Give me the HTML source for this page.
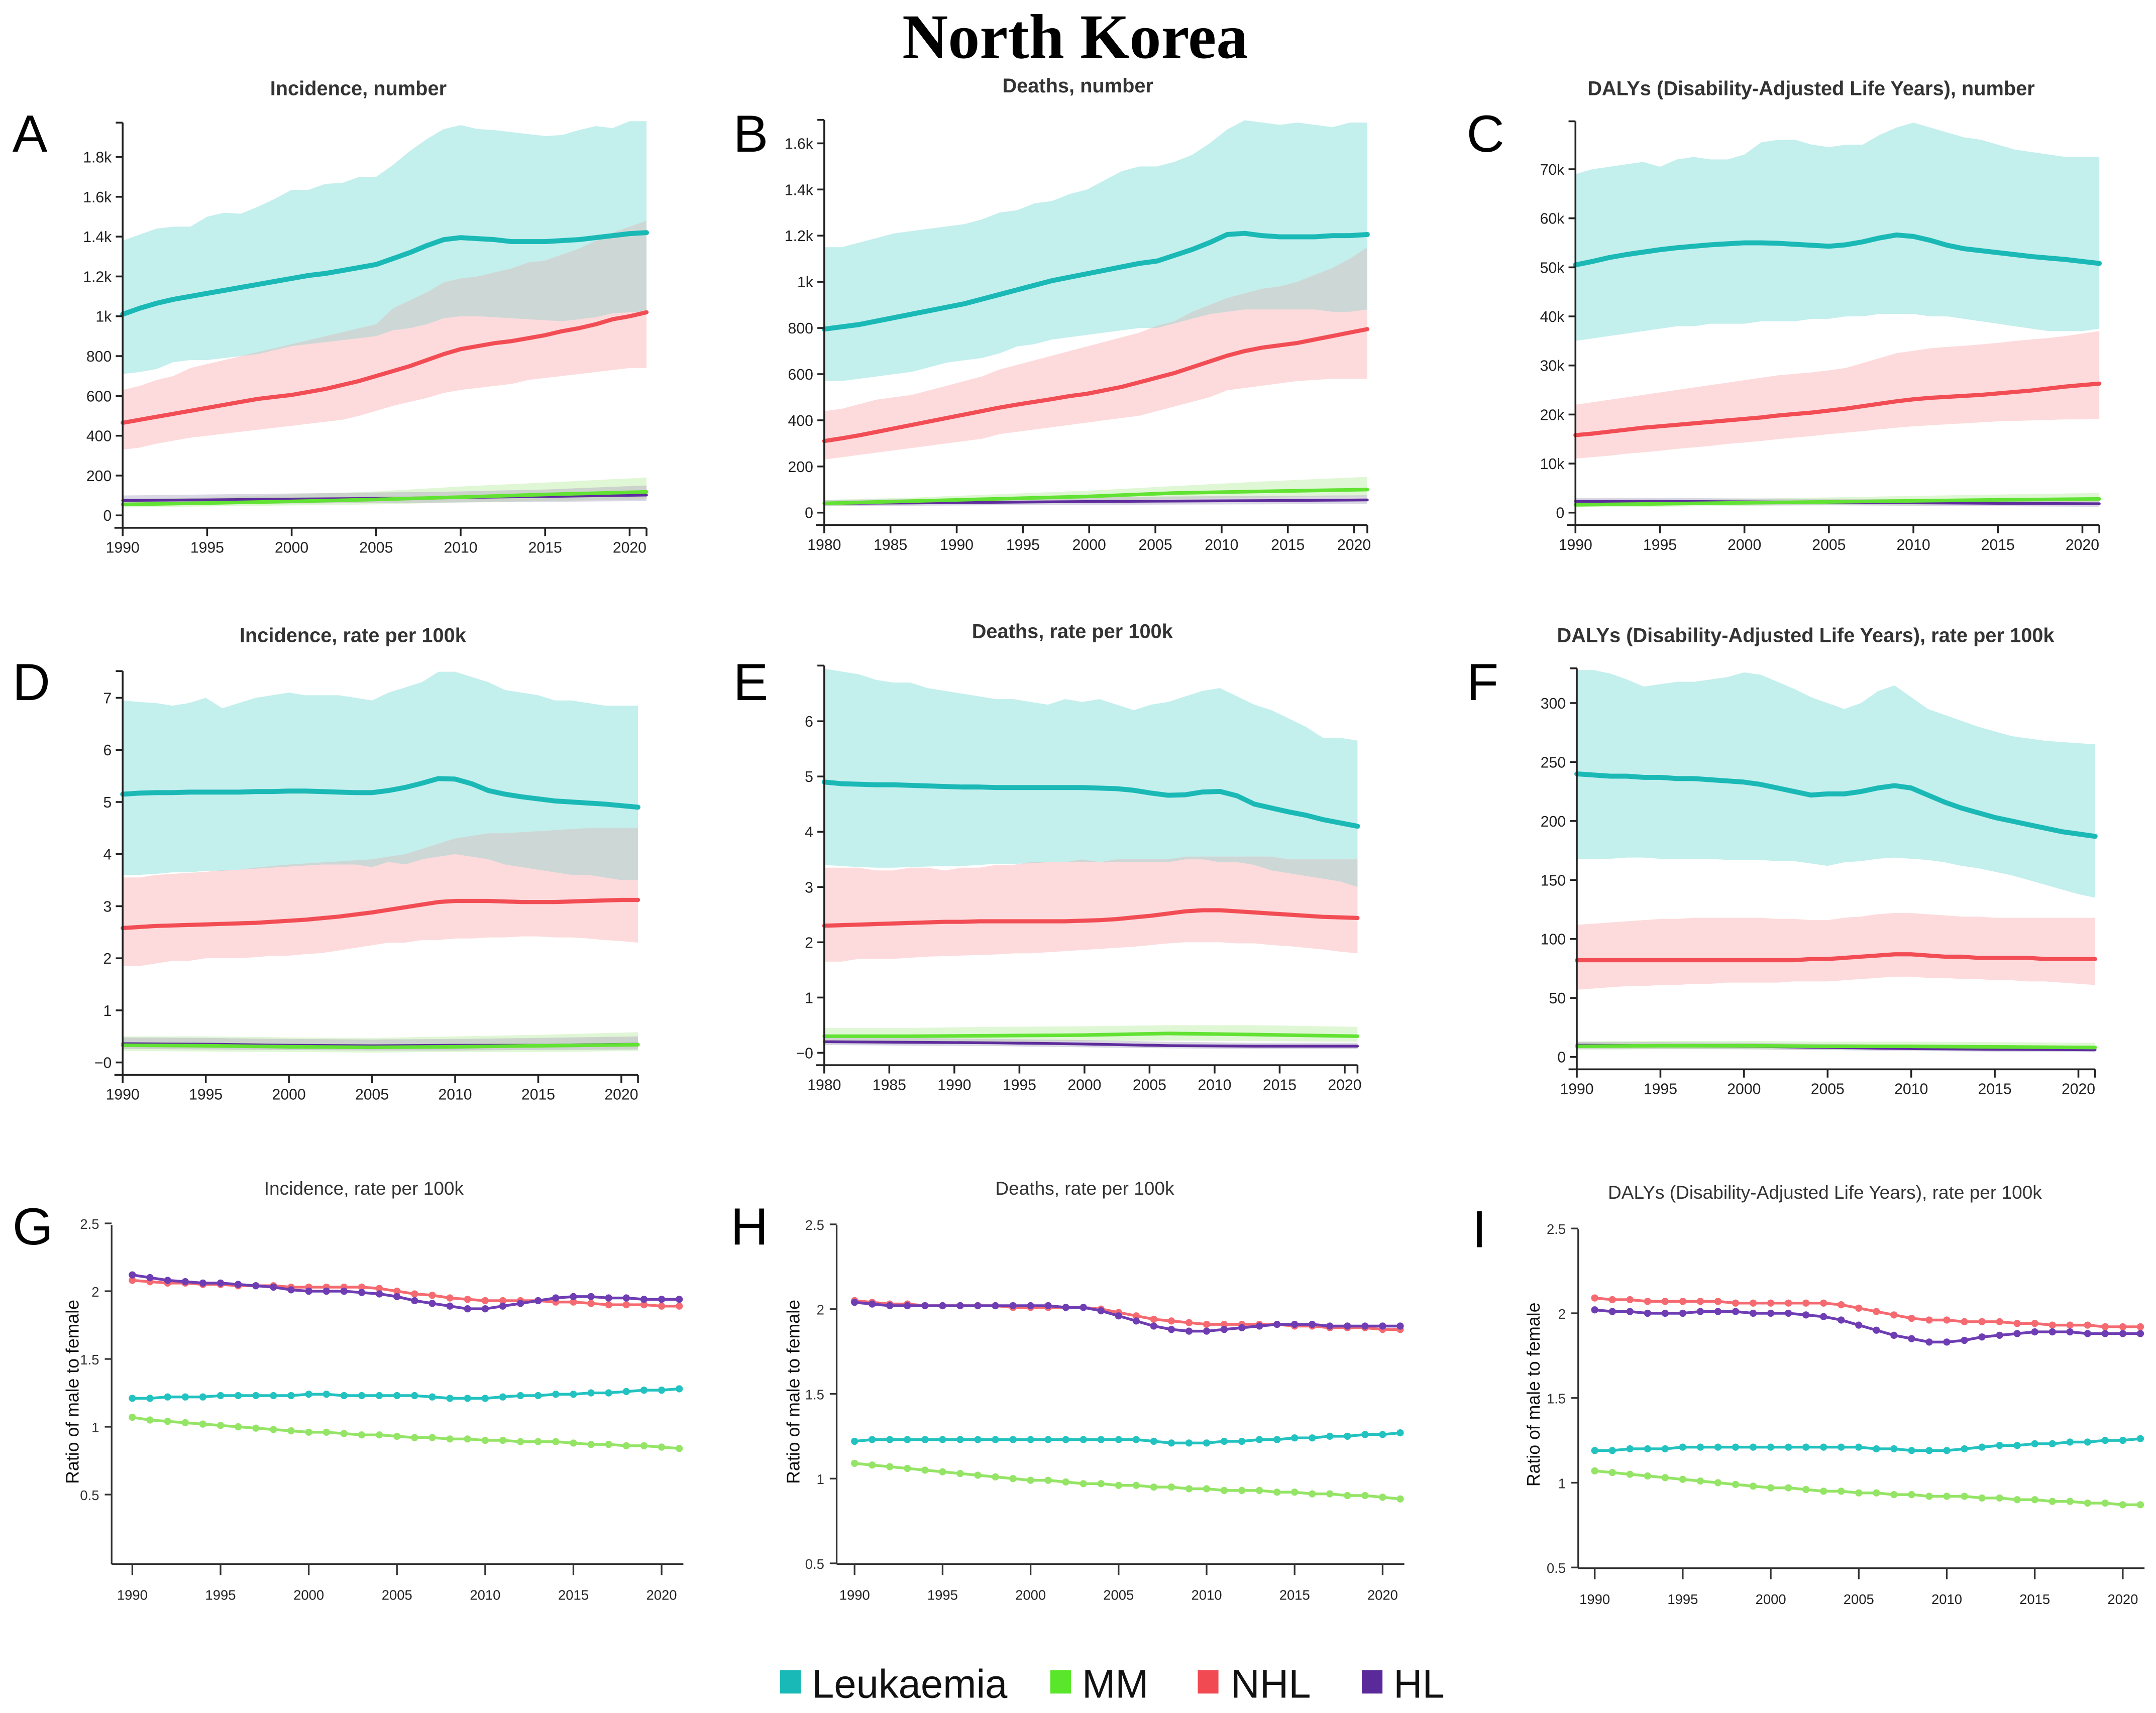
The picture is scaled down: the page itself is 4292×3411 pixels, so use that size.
<!DOCTYPE html>
<html><head><meta charset="utf-8"><style>
html,body{margin:0;padding:0;background:#fff;}
svg{display:block;}
text{font-family:"Liberation Sans",sans-serif;}
</style></head>
<body>
<svg id="fig" xmlns="http://www.w3.org/2000/svg" width="4292" height="3411" viewBox="0 0 1564.2 1243.1">
<rect width="1564.2" height="1243.1" fill="#fff"/>
<defs id="defs"></defs>
<text x="780" y="42" text-anchor="middle" font-weight="bold" font-size="46" fill="#000" style="font-family:'Liberation Serif',serif">North Korea</text>
<g id="panels"></g>
<g>
 <rect x="566" y="1212" width="15" height="17" fill="#18b9b6"/>
 <text x="589" y="1232" font-size="29" fill="#111">Leukaemia</text>
 <rect x="762" y="1212" width="15" height="17" fill="#5ae62a"/>
 <text x="785" y="1232" font-size="29" fill="#111">MM</text>
 <rect x="869" y="1212" width="15" height="17" fill="#f24a52"/>
 <text x="893" y="1232" font-size="29" fill="#111">NHL</text>
 <rect x="988" y="1212" width="15" height="17" fill="#5b2a9a"/>
 <text x="1011" y="1232" font-size="29" fill="#111">HL</text>
</g>
</svg>
<script>
// ---------- categories ----------
const YEARS = [1990,1991,1992,1993,1994,1995,1996,1997,1998,1999,2000,2001,2002,2003,2004,2005,2006,2007,2008,2009,2010,2011,2012,2013,2014,2015,2016,2017,2018,2019,2020,2021];
const SPARSE = [1990,1995,2000,2005,2010,2015,2021];

// ---------- A: incidence number ----------
const A_leuk = [1010,1040,1065,1085,1100,1115,1130,1145,1160,1175,1190,1205,1215,1230,1245,1260,1290,1320,1355,1385,1395,1390,1385,1375,1375,1375,1380,1385,1395,1405,1415,1420];
const A_leukHi = [1380,1410,1440,1450,1450,1500,1520,1515,1550,1590,1635,1635,1665,1670,1700,1700,1760,1830,1890,1940,1960,1940,1935,1925,1915,1905,1910,1935,1955,1945,1980,1980];
const A_leukLo = [710,720,735,770,780,780,790,800,810,830,850,860,870,880,890,900,930,940,960,990,1000,1000,995,990,985,980,975,985,995,1015,1020,1025];
const A_nhl = [465,480,495,510,525,540,555,570,585,595,605,620,635,655,675,700,725,750,780,810,835,850,865,875,890,905,925,940,960,985,1000,1020];
const A_nhlHi = [630,650,680,700,740,760,780,800,820,840,860,880,900,920,940,960,1040,1080,1120,1170,1190,1200,1220,1240,1270,1280,1310,1340,1380,1420,1450,1480];
const A_nhlLo = [330,340,360,375,390,400,410,420,430,440,450,460,470,480,500,525,550,570,590,615,630,640,650,660,680,690,700,710,720,730,740,740];
const A_mm = [55,62,70,80,92,105,118], A_mmHi = [80,90,105,120,145,165,190], A_mmLo = [40,45,50,55,65,72,80];
const A_hl = [75,78,82,85,90,95,102], A_hlHi = [100,105,110,115,120,130,150], A_hlLo = [55,57,60,62,65,68,72];
const A_ticks = [0,200,400,600,800,1000,1200,1400,1600,1800];
const A_tickLabels = ['0','200','400','600','800','1k','1.2k','1.4k','1.6k','1.8k'];

// ---------- B: deaths number ----------
const B_leuk = [795,805,815,830,845,860,875,890,905,925,945,965,985,1005,1020,1035,1050,1065,1080,1090,1115,1140,1170,1205,1210,1200,1195,1195,1195,1200,1200,1205];
const B_leukHi = [1150,1150,1170,1190,1210,1220,1230,1240,1250,1270,1300,1310,1340,1350,1380,1400,1440,1480,1500,1500,1520,1550,1600,1660,1700,1690,1680,1690,1680,1670,1690,1690];
const B_leukLo = [570,570,580,590,600,610,630,650,660,670,690,720,730,750,760,770,780,790,800,800,820,840,860,870,880,880,880,880,880,870,870,880];
const B_nhl = [310,322,335,350,365,380,395,410,425,440,455,468,480,492,505,515,530,545,565,585,605,630,655,680,700,715,725,735,750,765,780,795];
const B_nhlHi = [440,450,470,490,500,510,530,550,570,590,620,640,660,680,700,720,740,760,780,810,830,870,900,930,950,970,980,1000,1030,1060,1100,1150];
const B_nhlLo = [230,240,250,260,270,280,290,300,310,320,340,350,360,370,380,390,400,410,420,440,460,480,500,530,540,550,560,570,575,580,580,580];
const B_mm = [40,50,60,70,85,92,100], B_mmHi = [55,65,80,95,115,135,155], B_mmLo = [28,35,42,50,60,65,70];
const B_hl = [40,42,45,48,50,52,55], B_hlHi = [55,58,62,66,70,72,75], B_hlLo = [28,30,32,34,35,36,38];
const B_ticks = [0,200,400,600,800,1000,1200,1400,1600];
const B_tickLabels = ['0','200','400','600','800','1k','1.2k','1.4k','1.6k'];

// ---------- C: DALYs number (thousands) ----------
const C_leuk = [50.5,51.2,52,52.6,53.1,53.6,54,54.3,54.6,54.8,55,55,54.9,54.7,54.5,54.3,54.6,55.2,56,56.6,56.3,55.5,54.5,53.8,53.4,53,52.6,52.2,51.9,51.6,51.2,50.8];
const C_leukHi = [69,70,70.5,71,71.5,70.5,72,72.5,72,72,73,75.5,76,76,75,74.5,75,75,77,78.5,79.5,78.5,77.5,76.5,76,75,74,73.5,73,72.5,72.5,72.5];
const C_leukLo = [35,35.5,36,36.5,37,37.5,38,38,38.5,38.5,38.5,39,39,39,39.5,39.5,40,40,40.5,40.5,40.5,40,40,39.5,39,38.5,38,37.5,37,37,37,37.5];
const C_nhl = [15.8,16.1,16.5,16.9,17.3,17.6,17.9,18.2,18.5,18.8,19.1,19.4,19.8,20.1,20.4,20.8,21.2,21.7,22.2,22.7,23.1,23.4,23.6,23.8,24,24.3,24.6,24.9,25.3,25.7,26,26.3];
const C_nhlHi = [22,22.5,23,23.5,24,24.5,25,25.5,26,26.5,27,27.5,28,28.3,28.6,29,29.5,30.5,31.5,32.5,33,33.5,33.8,34,34.3,34.6,35,35.3,35.6,36,36.5,37];
const C_nhlLo = [11,11.3,11.6,12,12.3,12.6,13,13.3,13.6,14,14.3,14.6,15,15.3,15.6,16,16.3,16.6,17,17.3,17.6,17.8,18,18.2,18.4,18.6,18.7,18.8,18.9,19,19,19.1];
const C_mm = [1.6,1.8,2.0,2.2,2.4,2.6,2.8], C_mmHi = [2.2,2.5,2.8,3.1,3.4,3.7,4], C_mmLo = [1.1,1.2,1.4,1.5,1.6,1.8,1.9];
const C_hl = [2.3,2.3,2.2,2.1,2.0,1.9,1.8], C_hlHi = [3,3,2.9,2.8,2.7,2.6,2.5], C_hlLo = [1.6,1.6,1.5,1.5,1.4,1.3,1.2];
const C_ticks = [0,10,20,30,40,50,60,70];
const C_tickLabels = ['0','10k','20k','30k','40k','50k','60k','70k'];

// ---------- D: incidence rate ----------
const D_leuk = [5.15,5.17,5.18,5.18,5.19,5.19,5.19,5.19,5.2,5.2,5.21,5.21,5.2,5.19,5.18,5.18,5.22,5.28,5.36,5.45,5.44,5.35,5.22,5.15,5.1,5.06,5.02,5,4.98,4.96,4.93,4.9];
const D_leukHi = [6.95,6.92,6.9,6.85,6.9,7,6.8,6.9,7,7.05,7.1,7.05,7.05,7.05,7,6.95,7.1,7.2,7.3,7.5,7.5,7.4,7.3,7.15,7.1,7.05,6.95,6.95,6.9,6.85,6.85,6.85];
const D_leukLo = [3.6,3.6,3.62,3.65,3.65,3.68,3.68,3.7,3.72,3.74,3.76,3.78,3.8,3.8,3.8,3.75,3.85,3.8,3.9,3.95,4,3.95,3.9,3.8,3.75,3.7,3.65,3.6,3.6,3.55,3.5,3.5];
const D_nhl = [2.58,2.6,2.62,2.63,2.64,2.65,2.66,2.67,2.68,2.7,2.72,2.74,2.77,2.8,2.84,2.88,2.93,2.98,3.03,3.08,3.1,3.1,3.1,3.09,3.08,3.08,3.08,3.09,3.1,3.11,3.12,3.12];
const D_nhlHi = [3.55,3.55,3.6,3.62,3.64,3.66,3.69,3.7,3.74,3.77,3.8,3.82,3.84,3.86,3.88,3.9,3.95,4,4.1,4.2,4.3,4.35,4.4,4.4,4.42,4.44,4.46,4.48,4.5,4.5,4.5,4.5];
const D_nhlLo = [1.85,1.85,1.9,1.95,1.95,2,2,2,2.02,2.05,2.05,2.08,2.1,2.15,2.2,2.25,2.3,2.3,2.35,2.35,2.38,2.38,2.4,2.4,2.42,2.42,2.4,2.4,2.38,2.35,2.33,2.3];
const D_mm = [0.33,0.32,0.3,0.29,0.3,0.32,0.34], D_mmHi = [0.5,0.5,0.48,0.47,0.5,0.53,0.58], D_mmLo = [0.22,0.21,0.2,0.19,0.2,0.2,0.22];
const D_hl = [0.36,0.35,0.33,0.32,0.33,0.33,0.35], D_hlHi = [0.48,0.47,0.45,0.44,0.45,0.47,0.5], D_hlLo = [0.26,0.25,0.24,0.23,0.23,0.24,0.25];
const D_ticks = [0,1,2,3,4,5,6,7];
const D_tickLabels = ['−0','1','2','3','4','5','6','7'];

// ---------- E: deaths rate ----------
const E_leuk = [4.9,4.87,4.86,4.85,4.85,4.84,4.83,4.82,4.81,4.81,4.8,4.8,4.8,4.8,4.8,4.8,4.79,4.78,4.75,4.7,4.66,4.67,4.72,4.73,4.65,4.5,4.43,4.36,4.3,4.22,4.16,4.1];
const E_leukHi = [6.95,6.9,6.85,6.75,6.7,6.7,6.6,6.55,6.5,6.45,6.4,6.4,6.35,6.3,6.4,6.35,6.4,6.3,6.2,6.3,6.35,6.45,6.55,6.6,6.45,6.3,6.2,6.05,5.9,5.7,5.7,5.65];
const E_leukLo = [3.4,3.38,3.36,3.35,3.35,3.36,3.37,3.38,3.38,3.4,3.42,3.42,3.43,3.45,3.45,3.45,3.45,3.45,3.45,3.45,3.45,3.5,3.5,3.45,3.45,3.4,3.3,3.25,3.2,3.15,3.1,3.0];
const E_nhl = [2.3,2.31,2.32,2.33,2.34,2.35,2.36,2.37,2.37,2.38,2.38,2.38,2.38,2.38,2.38,2.39,2.4,2.42,2.45,2.48,2.52,2.56,2.58,2.58,2.56,2.54,2.52,2.5,2.48,2.46,2.45,2.44];
const E_nhlHi = [3.35,3.35,3.35,3.3,3.3,3.35,3.35,3.3,3.35,3.35,3.4,3.4,3.45,3.45,3.45,3.5,3.45,3.5,3.5,3.5,3.5,3.55,3.55,3.55,3.55,3.55,3.55,3.5,3.5,3.5,3.5,3.5];
const E_nhlLo = [1.65,1.65,1.7,1.7,1.7,1.72,1.74,1.75,1.76,1.77,1.78,1.8,1.8,1.82,1.84,1.86,1.88,1.9,1.92,1.95,1.98,2,2,2,1.98,1.98,1.95,1.93,1.9,1.87,1.83,1.8];
const E_mm = [0.3,0.3,0.31,0.32,0.35,0.33,0.3], E_mmHi = [0.45,0.45,0.47,0.48,0.5,0.5,0.47], E_mmLo = [0.2,0.2,0.2,0.21,0.22,0.21,0.2];
const E_hl = [0.2,0.19,0.18,0.16,0.13,0.12,0.12], E_hlHi = [0.28,0.27,0.25,0.23,0.2,0.18,0.18], E_hlLo = [0.14,0.13,0.12,0.1,0.08,0.07,0.07];
const E_ticks = [0,1,2,3,4,5,6];
const E_tickLabels = ['−0','1','2','3','4','5','6'];

// ---------- F: DALYs rate ----------
const F_leuk = [240,239,238,238,237,237,236,236,235,234,233,231,228,225,222,223,223,225,228,230,228,222,216,211,207,203,200,197,194,191,189,187];
const F_leukHi = [328,328,325,320,314,316,318,318,320,322,326,324,318,312,305,300,295,300,310,315,305,295,290,285,280,276,272,270,268,267,266,265];
const F_leukLo = [168,168,168,169,169,168,168,168,168,167,167,167,166,166,164,162,165,166,168,169,168,167,165,162,160,157,154,150,146,142,138,135];
const F_nhl = [82,82,82,82,82,82,82,82,82,82,82,82,82,82,83,83,84,85,86,87,87,86,85,85,84,84,84,84,83,83,83,83];
const F_nhlHi = [112,113,114,115,116,117,117,118,118,118,118,118,117,117,116,116,118,119,121,122,122,121,120,119,119,118,118,118,118,118,118,118];
const F_nhlLo = [57,58,59,60,60,61,61,62,62,63,63,63,63,64,64,64,65,66,67,68,68,67,67,66,66,65,65,64,64,63,62,61];
const F_mm = [9,9.5,9.5,9,9,8.5,8], F_mmHi = [13,13.5,13.5,13,13,12.5,12], F_mmLo = [6,6.5,6.5,6,6,5.8,5.5];
const F_hl = [10,9.5,9,8,7,6.5,6], F_hlHi = [13,12.5,12,11,10,9,8.5], F_hlLo = [7,6.8,6.5,5.8,5,4.5,4];
const F_ticks = [0,50,100,150,200,250,300];
const F_tickLabels = ['0','50','100','150','200','250','300'];

// ---------- G/H/I: male-to-female ratios ----------
const G_hl = [2.12,2.1,2.08,2.07,2.06,2.06,2.05,2.04,2.03,2.01,2.0,2.0,2.0,1.99,1.98,1.96,1.93,1.91,1.89,1.87,1.87,1.89,1.91,1.93,1.95,1.96,1.96,1.95,1.95,1.94,1.94,1.94];
const G_nhl = [2.08,2.07,2.06,2.06,2.05,2.05,2.04,2.04,2.04,2.03,2.03,2.03,2.03,2.03,2.02,2.0,1.98,1.97,1.95,1.94,1.93,1.93,1.93,1.93,1.92,1.92,1.91,1.9,1.9,1.9,1.89,1.89];
const G_leuk = [1.21,1.21,1.22,1.22,1.22,1.23,1.23,1.23,1.23,1.23,1.24,1.24,1.23,1.23,1.23,1.23,1.23,1.22,1.21,1.21,1.21,1.22,1.23,1.23,1.24,1.24,1.25,1.25,1.26,1.27,1.27,1.28];
const G_mm = [1.07,1.05,1.04,1.03,1.02,1.01,1.0,0.99,0.98,0.97,0.96,0.96,0.95,0.94,0.94,0.93,0.92,0.92,0.91,0.91,0.9,0.9,0.89,0.89,0.89,0.88,0.87,0.87,0.86,0.86,0.85,0.84];
const H_hl = [2.04,2.03,2.02,2.02,2.02,2.02,2.02,2.02,2.02,2.02,2.02,2.02,2.01,2.01,1.99,1.96,1.93,1.9,1.88,1.87,1.87,1.88,1.89,1.9,1.91,1.91,1.91,1.9,1.9,1.9,1.9,1.9];
const H_nhl = [2.05,2.04,2.03,2.03,2.02,2.02,2.02,2.02,2.02,2.01,2.01,2.01,2.01,2.01,2.0,1.98,1.96,1.94,1.93,1.92,1.91,1.91,1.91,1.91,1.91,1.9,1.9,1.89,1.89,1.89,1.88,1.88];
const H_leuk = [1.22,1.23,1.23,1.23,1.23,1.23,1.23,1.23,1.23,1.23,1.23,1.23,1.23,1.23,1.23,1.23,1.23,1.22,1.21,1.21,1.21,1.22,1.22,1.23,1.23,1.24,1.24,1.25,1.25,1.26,1.26,1.27];
const H_mm = [1.09,1.08,1.07,1.06,1.05,1.04,1.03,1.02,1.01,1.0,0.99,0.99,0.98,0.97,0.97,0.96,0.96,0.95,0.95,0.94,0.94,0.93,0.93,0.93,0.92,0.92,0.91,0.91,0.9,0.9,0.89,0.88];
const I_hl = [2.02,2.01,2.01,2.0,2.0,2.0,2.01,2.01,2.01,2.0,2.0,2.0,1.99,1.98,1.96,1.93,1.9,1.87,1.85,1.83,1.83,1.84,1.86,1.87,1.88,1.89,1.89,1.89,1.88,1.88,1.88,1.88];
const I_nhl = [2.09,2.08,2.08,2.07,2.07,2.07,2.07,2.07,2.06,2.06,2.06,2.06,2.06,2.06,2.05,2.03,2.01,1.99,1.97,1.96,1.96,1.95,1.95,1.95,1.94,1.94,1.93,1.93,1.93,1.92,1.92,1.92];
const I_leuk = [1.19,1.19,1.2,1.2,1.2,1.21,1.21,1.21,1.21,1.21,1.21,1.21,1.21,1.21,1.21,1.21,1.2,1.2,1.19,1.19,1.19,1.2,1.21,1.22,1.22,1.23,1.23,1.24,1.24,1.25,1.25,1.26];
const I_mm = [1.07,1.06,1.05,1.04,1.03,1.02,1.01,1.0,0.99,0.98,0.97,0.97,0.96,0.95,0.95,0.94,0.94,0.93,0.93,0.92,0.92,0.92,0.91,0.91,0.9,0.9,0.89,0.89,0.88,0.88,0.87,0.87];
const RATIO_TICKS = [0.5,1,1.5,2,2.5];
const RATIO_TICK_LABELS = ['0.5','1','1.5','2','2.5'];
const XTICK_YEARS = [1990,1995,2000,2005,2010,2015,2020];
const XTICK_LABELS_B = [1980,1985,1990,1995,2000,2005,2010,2015,2020];

// ---------- rendering ----------
const NS = 'http://www.w3.org/2000/svg';
const root = document.getElementById('panels');
const defs = document.getElementById('defs');
let clipId = 0;
function mk(tag, attrs, parent){ const e=document.createElementNS(NS,tag); for(const k in attrs) e.setAttribute(k,attrs[k]); (parent||root).appendChild(e); return e; }
function txt(s, attrs, parent){ const e=mk('text',attrs,parent); e.textContent=s; return e; }

const COL = {leuk:'#1ab9b6', nhl:'#f24d55', mm:'#62e233', hl:'#5e2c9c'};
const BAND = {leuk:'#c3efed', nhl:'#fddbdc', mm:'#e0f7d6', hl:'#d9d2e6'};
const RCOL = {leuk:'#22c2c0', nhl:'#f56a70', mm:'#94e465', hl:'#6e3db3'};

function bandPanel(p){
  const g = mk('g',{});
  
  
  const xs = y => p.xAt0 + (y - 1990) * p.pxYear;
  const ys = v => p.y0 - v * p.ppu;
  const t = txt(p.title,{x:p.titleX,y:p.titleY,'text-anchor':'middle','font-size':14.5,'font-weight':'bold',fill:'#333'},g);
  
  
  const L = txt(p.letter,{x:p.letterX,y:p.letterY,'font-size':38,fill:'#000'},g);
  
  
  const plot = mk('g',{},g);
  
  
  function areaD(years, hi, lo){
    let d='';
    years.forEach((y,i)=>{ d += (i?'L':'M')+xs(y).toFixed(2)+','+ys(hi[i]).toFixed(2); });
    for(let i=years.length-1;i>=0;i--) d += 'L'+xs(years[i]).toFixed(2)+','+ys(lo[i]).toFixed(2);
    return d+'Z';
  }
  function area(years, hi, lo, key){
    const a = mk('path',{d:areaD(years,hi,lo),fill:BAND[key]},plot);
    
    
  }
  function line(years, vals, key, w){
    const pts = years.map((y,i)=>xs(y).toFixed(2)+','+ys(vals[i]).toFixed(2)).join(' ');
    const l = mk('polyline',{points:pts,fill:'none',stroke:COL[key],'stroke-width':w,'stroke-linejoin':'round','stroke-linecap':'round'},plot);
    
    
  }
  const s = p.series;
  area(YEARS, s.leukHi, s.leukLo, 'leuk');
  area(YEARS, s.nhlHi, s.nhlLo, 'nhl');
  // overlap of leukaemia and NHL bands (grey)
  const cid = 'clip'+(clipId++);
  const cp = mk('clipPath',{id:cid},defs);
  mk('path',{d:areaD(YEARS,s.leukHi,s.leukLo)},cp);
  const ov = mk('path',{d:areaD(YEARS,s.nhlHi,s.nhlLo),fill:'#cdd8d6','clip-path':'url(#'+cid+')'},plot);
  
  
  area(SPARSE, s.mmHi, s.mmLo, 'mm');
  const cid2 = 'clip'+(clipId++);
  const cp2 = mk('clipPath',{id:cid2},defs);
  mk('path',{d:areaD(SPARSE,s.mmHi,s.mmLo)},cp2);
  const hlb = mk('path',{d:areaD(SPARSE,s.hlHi,s.hlLo),fill:'#dad8e4'},plot);
  
  
  const ov2 = mk('path',{d:areaD(SPARSE,s.hlHi,s.hlLo),fill:'#ccd3cc','clip-path':'url(#'+cid2+')'},plot);
  
  
  line(SPARSE, s.hl, 'hl', 2);
  line(SPARSE, s.mm, 'mm', 2.6);
  line(YEARS, s.nhl, 'nhl', 3);
  line(YEARS, s.leuk, 'leuk', 3.6);
  // axes
  const ax = mk('g',{stroke:'#222','stroke-width':1.3},g);
  
  
  mk('line',{x1:p.axisX,y1:p.top,x2:p.axisX,y2:p.xAxisY},ax);
  mk('line',{x1:p.axisX-5,y1:p.top,x2:p.axisX,y2:p.top},ax);
  p.ticks.forEach((v,i)=>{
    mk('line',{x1:p.axisX-5,y1:ys(v),x2:p.axisX,y2:ys(v)},ax);
    const tl = txt(p.tickLabels[i],{x:p.axisX-8,y:ys(v)+4,'text-anchor':'end','font-size':11,fill:'#222',stroke:'none'},g);
    
    
  });
  const xa = mk('g',{stroke:'#222','stroke-width':1.3},g);
  
  
  const xEnd = xs(2021);
  mk('line',{x1:p.axisX-6,y1:p.xAxisY,x2:xEnd,y2:p.xAxisY},xa);
  mk('line',{x1:xEnd,y1:p.xAxisY,x2:xEnd,y2:p.xAxisY+6},xa);
  const tx = p.tickScale || (y => xs(y));
  p.xticks.forEach(y=>{
    mk('line',{x1:tx(y),y1:p.xAxisY,x2:tx(y),y2:p.xAxisY+6},xa);
    const tl = txt(String(y),{x:tx(y),y:p.xAxisY+18,'text-anchor':'middle','font-size':11,fill:'#222',stroke:'none'},g);
    
    
  });
}

function ratioPanel(p){
  const g = mk('g',{});
  
  
  const xs = y => p.x1990 + (y - 1990) * p.pxYear;
  const ys = v => p.y2 - (v - 2) * p.ppu;
  const t = txt(p.title,{x:p.titleX,y:p.titleY,'text-anchor':'middle','font-size':13.5,fill:'#333'},g);
  
  
  const L = txt(p.letter,{x:p.letterX,y:p.letterY,'font-size':38,fill:'#000'},g);
  
  
  const yl = txt('Ratio of male to female',{x:0,y:0,'text-anchor':'middle','font-size':13,fill:'#111',transform:`translate(${p.ylabX},${p.ylabY}) rotate(-90)`},g);
  
  
  const ax = mk('g',{stroke:'#333','stroke-width':1.2},g);
  
  
  mk('line',{x1:p.axisX,y1:p.top,x2:p.axisX,y2:p.bottom},ax);
  RATIO_TICKS.forEach((v,i)=>{
    mk('line',{x1:p.axisX-5,y1:ys(v),x2:p.axisX,y2:ys(v)},ax);
    const tl = txt(RATIO_TICK_LABELS[i],{x:p.axisX-9,y:ys(v)+4,'text-anchor':'end','font-size':10,fill:'#333',stroke:'none'},g);
    
    
  });
  mk('line',{x1:p.axisX,y1:p.bottom,x2:xs(2021)+3,y2:p.bottom},ax);
  XTICK_YEARS.forEach(y=>{
    mk('line',{x1:xs(y),y1:p.bottom,x2:xs(y),y2:p.bottom+8},ax);
    const tl = txt(String(y),{x:xs(y),y:p.bottom+26,'text-anchor':'middle','font-size':10,fill:'#222',stroke:'none'},g);
    
    
  });
  const order = [['mm',p.s.mm],['leuk',p.s.leuk],['nhl',p.s.nhl],['hl',p.s.hl]];
  order.forEach(([key,vals])=>{
    const sg = mk('g',{},g);
    
    
    const pts = YEARS.map((y,i)=>xs(y).toFixed(2)+','+ys(vals[i]).toFixed(2)).join(' ');
    mk('polyline',{points:pts,fill:'none',stroke:RCOL[key],'stroke-width':2},sg);
    YEARS.forEach((y,i)=>{
      const c = mk('circle',{cx:xs(y),cy:ys(vals[i]),r:2.6,fill:RCOL[key]},sg);
      
      
    });
  });
}

bandPanel({name:'panel-a-incidence-number',title:'Incidence, number',titleX:260,titleY:69,letter:'A',letterX:9,letterY:110,
  xAt0:89,pxYear:12.26,y0:374,ppu:28.9/200,top:89,xAxisY:383,axisX:89,
  ticks:A_ticks,tickLabels:A_tickLabels,xticks:XTICK_YEARS,
  series:{leuk:A_leuk,leukHi:A_leukHi,leukLo:A_leukLo,nhl:A_nhl,nhlHi:A_nhlHi,nhlLo:A_nhlLo,mm:A_mm,mmHi:A_mmHi,mmLo:A_mmLo,hl:A_hl,hlHi:A_hlHi,hlLo:A_hlLo}});
bandPanel({name:'panel-b-deaths-number',title:'Deaths, number',titleX:782,titleY:67,letter:'B',letterX:532,letterY:110,
  xAt0:598,pxYear:12.71,y0:372,ppu:33.5/200,top:87,xAxisY:381,axisX:598,
  tickScale:(y=>598+(y-1980)*9.61),
  ticks:B_ticks,tickLabels:B_tickLabels,xticks:XTICK_LABELS_B,
  series:{leuk:B_leuk,leukHi:B_leukHi,leukLo:B_leukLo,nhl:B_nhl,nhlHi:B_nhlHi,nhlLo:B_nhlLo,mm:B_mm,mmHi:B_mmHi,mmLo:B_mmLo,hl:B_hl,hlHi:B_hlHi,hlLo:B_hlLo}});
bandPanel({name:'panel-c-dalys-number',title:'DALYs (Disability-Adjusted Life Years), number',titleX:1314,titleY:69,letter:'C',letterX:1064,letterY:110,
  xAt0:1143,pxYear:12.26,y0:372,ppu:3.56,top:88,xAxisY:381,axisX:1143,
  ticks:C_ticks,tickLabels:C_tickLabels,xticks:XTICK_YEARS,
  series:{leuk:C_leuk,leukHi:C_leukHi,leukLo:C_leukLo,nhl:C_nhl,nhlHi:C_nhlHi,nhlLo:C_nhlLo,mm:C_mm,mmHi:C_mmHi,mmLo:C_mmLo,hl:C_hl,hlHi:C_hlHi,hlLo:C_hlLo}});
bandPanel({name:'panel-d-incidence-rate',title:'Incidence, rate per 100k',titleX:256,titleY:466,letter:'D',letterX:9,letterY:508,
  xAt0:89,pxYear:12.06,y0:771,ppu:37.8,top:487,xAxisY:780,axisX:89,
  ticks:D_ticks,tickLabels:D_tickLabels,xticks:XTICK_YEARS,
  series:{leuk:D_leuk,leukHi:D_leukHi,leukLo:D_leukLo,nhl:D_nhl,nhlHi:D_nhlHi,nhlLo:D_nhlLo,mm:D_mm,mmHi:D_mmHi,mmLo:D_mmLo,hl:D_hl,hlHi:D_hlHi,hlLo:D_hlLo}});
bandPanel({name:'panel-e-deaths-rate',title:'Deaths, rate per 100k',titleX:778,titleY:463,letter:'E',letterX:532,letterY:508,
  xAt0:598,pxYear:12.48,y0:764,ppu:40.1,top:483,xAxisY:773,axisX:598,
  tickScale:(y=>598+(y-1980)*9.44),
  ticks:E_ticks,tickLabels:E_tickLabels,xticks:XTICK_LABELS_B,
  series:{leuk:E_leuk,leukHi:E_leukHi,leukLo:E_leukLo,nhl:E_nhl,nhlHi:E_nhlHi,nhlLo:E_nhlLo,mm:E_mm,mmHi:E_mmHi,mmLo:E_mmLo,hl:E_hl,hlHi:E_hlHi,hlLo:E_hlLo}});
bandPanel({name:'panel-f-dalys-rate',title:'DALYs (Disability-Adjusted Life Years), rate per 100k',titleX:1310,titleY:466,letter:'F',letterX:1064,letterY:508,
  xAt0:1144,pxYear:12.13,y0:767,ppu:42.8/50,top:485,xAxisY:776,axisX:1144,
  ticks:F_ticks,tickLabels:F_tickLabels,xticks:XTICK_YEARS,
  series:{leuk:F_leuk,leukHi:F_leukHi,leukLo:F_leukLo,nhl:F_nhl,nhlHi:F_nhlHi,nhlLo:F_nhlLo,mm:F_mm,mmHi:F_mmHi,mmLo:F_mmLo,hl:F_hl,hlHi:F_hlHi,hlLo:F_hlLo}});

ratioPanel({name:'panel-g-incidence-ratio',title:'Incidence, rate per 100k',titleX:264,titleY:867,letter:'G',letterX:9,letterY:903,
  x1990:96,pxYear:12.8,y2:937,ppu:98.4,axisX:81,top:889,bottom:1135,ylabX:57,ylabY:1010,
  s:{hl:G_hl,nhl:G_nhl,leuk:G_leuk,mm:G_mm}});
ratioPanel({name:'panel-h-deaths-ratio',title:'Deaths, rate per 100k',titleX:787,titleY:867,letter:'H',letterX:530,letterY:903,
  x1990:620,pxYear:12.77,y2:950,ppu:123,axisX:607,top:889,bottom:1135,ylabX:580,ylabY:1010,
  s:{hl:H_hl,nhl:H_nhl,leuk:H_leuk,mm:H_mm}});
ratioPanel({name:'panel-i-dalys-ratio',title:'DALYs (Disability-Adjusted Life Years), rate per 100k',titleX:1324,titleY:870,letter:'I',letterX:1068,letterY:905,
  x1990:1157,pxYear:12.77,y2:953,ppu:123,axisX:1145,top:892,bottom:1138,ylabX:1117,ylabY:1012,
  s:{hl:I_hl,nhl:I_nhl,leuk:I_leuk,mm:I_mm}});
</script>
</body></html>
